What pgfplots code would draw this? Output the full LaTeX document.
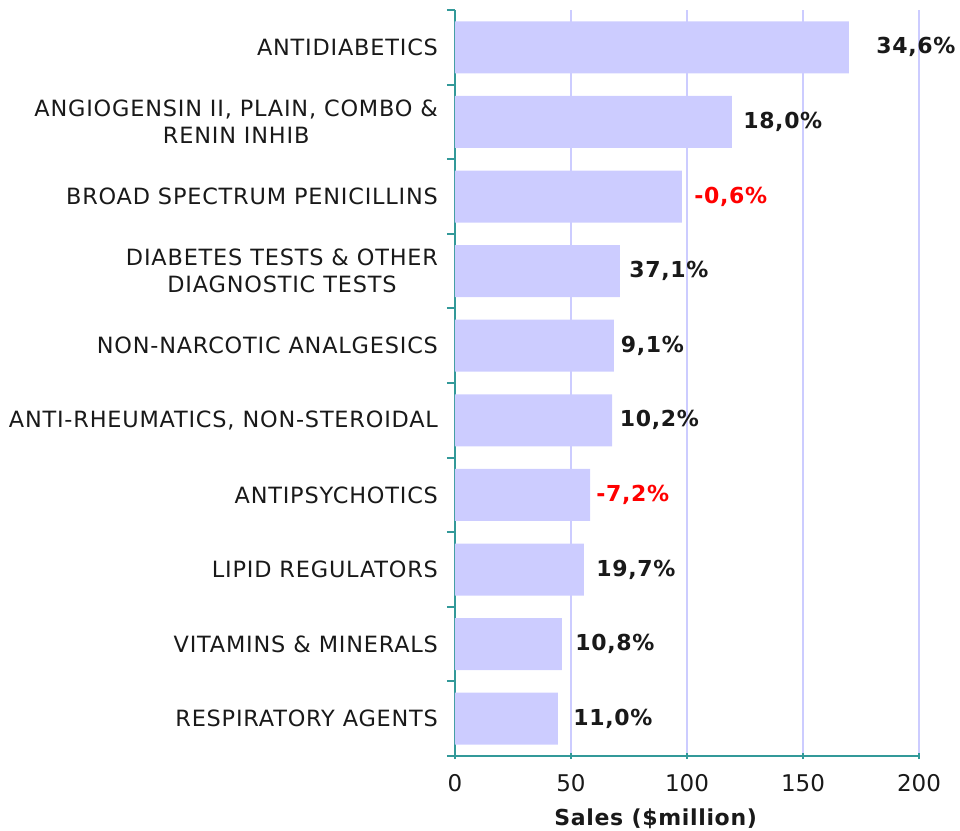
\documentclass[border=0pt]{standalone}
\usepackage{fontspec}
\setmainfont{DejaVu Sans}
\newfontfamily\lsfont[LetterSpace=3.6]{DejaVu Sans}
\newfontfamily\lsbfont[LetterSpace=3]{DejaVu Sans}
\usepackage{pgfplots}
\pgfplotsset{compat=1.18}
\definecolor{barcol}{HTML}{CCCCFF}
\definecolor{gridcol}{HTML}{CCCCFF}
\definecolor{axcol}{HTML}{339999}
\definecolor{negred}{HTML}{FF0000}
\begin{document}
\begin{tikzpicture}
\begin{axis}[
  at={(0,0)}, anchor=south west,
  scale only axis,
  width=232pt, height=373pt,
  xmin=0, xmax=200,
  ymin=-0.5, ymax=9.5,
  y dir=reverse,
  axis x line*=bottom,
  axis y line*=left,
  axis line style={axcol, line width=1pt},
  xtick={0,50,100,150,200},
  xmajorgrids,
  major grid style={gridcol, line width=1pt},
  x tick style={axcol, line width=1pt},
  major x tick style={axcol},
  xtick align=center,
  major tick length=3pt,
  ytick={0,...,9},
  major y tick style={draw=none},
  minor ytick={-0.5,0.5,...,9.5},
  minor y tick style={axcol, line width=1pt},
  minor tick length=4pt,
  ytick align=outside,
  yticklabels={ANTIDIABETICS,
    {ANGIOGENSIN II, PLAIN, COMBO \&\\RENIN INHIB},
    BROAD SPECTRUM PENICILLINS,
    {DIABETES TESTS \& OTHER\\DIAGNOSTIC TESTS},
    NON-NARCOTIC ANALGESICS,
    {ANTI-RHEUMATICS, NON-STEROIDAL},
    ANTIPSYCHOTICS,
    LIPID REGULATORS,
    {VITAMINS \& MINERALS},
    RESPIRATORY AGENTS},
  yticklabel style={font=\lsfont\fontsize{11.2}{13.5}\selectfont, align=center, text=black!90, xshift=-2pt},
  xticklabel style={font=\fontsize{11.5}{13}\selectfont, text=black!90, yshift=-4pt},
  /pgf/number format/assume math mode=true,
  xlabel={\textbf{Sales (\$million)}},
  xlabel style={font=\lsbfont\fontsize{11}{13}\selectfont, text=black!90, yshift=-2pt, xshift=-15.5pt},
  clip=false,
]
\addplot[xbar, bar width=26pt, fill=barcol, draw=none] coordinates {
  (169.8,0) (119.4,1) (97.8,2) (71.1,3) (68.5,4)
  (67.7,5) (58.2,6) (55.6,7) (46.1,8) (44.4,9)
};
\addplot[draw=none, mark=none, point meta=explicit symbolic,
  nodes near coords,
  every node near coord/.append style={anchor=west, inner sep=0pt, font=\lsbfont\bfseries\fontsize{11}{13}\selectfont, text=black!90}]
  coordinates {
  (181.5,0)[34,6\%]
  (124.1,1)[18,0\%]
  (103.0,2)[{\color{negred}-0,6\%}]
  (75.0,3)[37,1\%]
  (71.3,4)[9,1\%]
  (70.9,5)[10,2\%]
  (60.8,6)[{\color{negred}-7,2\%}]
  (60.8,7)[19,7\%]
  (51.7,8)[10,8\%]
  (50.9,9)[11,0\%]
};
\end{axis}
\pgfresetboundingbox
\path (-227.5pt,-37.5pt) rectangle (252.5pt,378pt);
\end{tikzpicture}
\end{document}
